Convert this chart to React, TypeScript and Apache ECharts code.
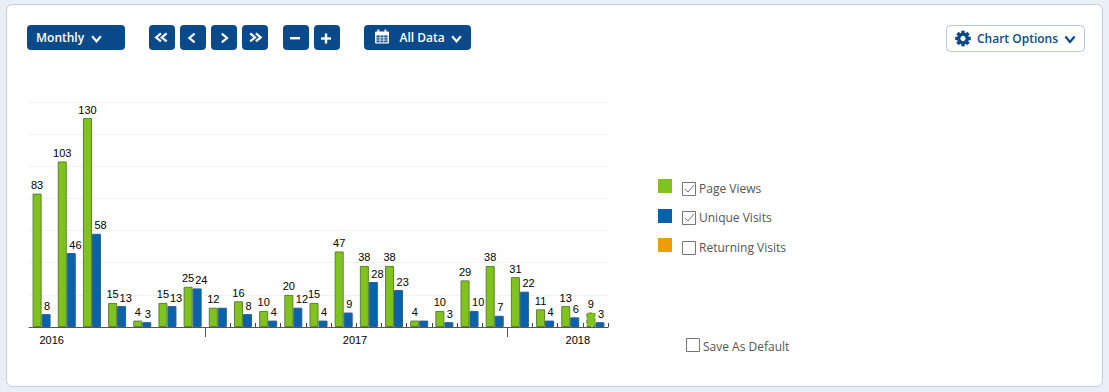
import React, { useEffect, useRef } from "react";
import * as echarts from "echarts";

const months = [
  "2016-06","2016-07","2016-08","2016-09","2016-10","2016-11","2016-12",
  "2017-01","2017-02","2017-03","2017-04","2017-05","2017-06","2017-07","2017-08","2017-09","2017-10","2017-11","2017-12",
  "2018-01","2018-02","2018-03","2018-04",
];
const pageViews = [83,103,130,15,4,15,25,12,16,10,20,15,47,38,38,4,10,29,38,31,11,13,9];
const uniqueVisits = [8,46,58,13,3,13,24,12,8,4,12,4,9,28,23,4,3,10,7,22,4,6,3];
const hiddenUniqueLabels = [7, 15];
const yearLabels = ["2016", "2017", "2018"];
const yearLabelSlots = [0.9, 12.95, 21.8];
const yearBoundaries = [7, 19];
const monthBoundaries = [8,9,10,11,12,13,14,15,16,17,18,20,21,22,23];
const legendNames = ["Page Views", "Unique Visits", "Returning Visits"];
const legendChecked = [true, true, false];

const GREEN = "#7fc31c";
const BLUE = "#0a62ad";
const ORANGE = "#f09d05";
const NAVY = "#0b4a8a";
const UI_FONT = "'Open Sans', sans-serif";

function chevron(cx: number, cy: number, dir: "l" | "r" | "d", s = 3.5, color = "#fff"): any {
  const pts =
    dir === "d"
      ? [[cx - s, cy - s * 0.6], [cx, cy + s * 0.6], [cx + s, cy - s * 0.6]]
      : dir === "l"
      ? [[cx + s * 0.6, cy - s], [cx - s * 0.6, cy], [cx + s * 0.6, cy + s]]
      : [[cx - s * 0.6, cy - s], [cx + s * 0.6, cy], [cx - s * 0.6, cy + s]];
  return { type: "polyline", shape: { points: pts }, style: { stroke: color, lineWidth: 2.2, fill: "none" } };
}

function btn(x: number, w: number): any {
  return { type: "rect", shape: { x, y: 25, width: w, height: 25, r: 4 }, style: { fill: NAVY } };
}

function label(text: string, x: number, y: number, fill: string, fontSize: number, fontWeight: any): any {
  return {
    type: "text",
    x,
    y,
    style: { text, fill, fontSize, fontWeight, fontFamily: UI_FONT, textVerticalAlign: "middle", textBaseline: "middle" },
  };
}

function checkbox(x: number, y: number, size: number, checked: boolean): any[] {
  const out: any[] = [
    { type: "rect", shape: { x: x + 0.5, y: y + 0.5, width: size, height: size }, style: { fill: "#fff", stroke: "#777", lineWidth: 1 } },
  ];
  if (checked) {
    out.push({
      type: "polyline",
      shape: { points: [[x + 3, y + 7], [x + 6, y + 10], [x + 12, y + 3]] },
      style: { stroke: "#777", lineWidth: 1, fill: "none" },
    });
  }
  return out;
}

function buildGraphics(): any[] {
  const g: any[] = [
    { type: "rect", z: -10, shape: { x: 6.5, y: 4.5, width: 1096, height: 382, r: 6 }, style: { fill: "#fff", stroke: "#c3cfdf", lineWidth: 1 } },
    btn(27, 98),
    label("Monthly", 36, 37.5, "#fff", 12, 600),
    chevron(96.5, 38.8, "d", 4.3),
    btn(149, 26),
    chevron(158.5, 37.4, "l", 4),
    chevron(164.2, 37.4, "l", 4),
    btn(180, 26),
    chevron(192, 38, "l", 4.4),
    btn(211, 26),
    chevron(224.4, 38, "r", 4.4),
    btn(242, 26),
    chevron(252.6, 37.4, "r", 4),
    chevron(258.3, 37.4, "r", 4),
    btn(283, 26),
    { type: "rect", shape: { x: 290, y: 37, width: 10, height: 2.4 }, style: { fill: "#fff" } },
    btn(314, 26),
    { type: "rect", shape: { x: 321, y: 37.3, width: 10, height: 2.4 }, style: { fill: "#fff" } },
    { type: "rect", shape: { x: 324.8, y: 33.5, width: 2.4, height: 10 }, style: { fill: "#fff" } },
    btn(364, 107),
    { type: "rect", shape: { x: 375, y: 31.5, width: 14, height: 12, r: 1 }, style: { fill: "#fff" } },
    { type: "rect", shape: { x: 376.5, y: 35.5, width: 11, height: 6.8 }, style: { fill: NAVY } },
    { type: "line", shape: { x1: 376.5, y1: 37.8, x2: 387.5, y2: 37.8 }, style: { stroke: "#fff", lineWidth: 0.8 } },
    { type: "line", shape: { x1: 376.5, y1: 40.1, x2: 387.5, y2: 40.1 }, style: { stroke: "#fff", lineWidth: 0.8 } },
    { type: "line", shape: { x1: 380.2, y1: 35.5, x2: 380.2, y2: 42.3 }, style: { stroke: "#fff", lineWidth: 0.8 } },
    { type: "line", shape: { x1: 383.8, y1: 35.5, x2: 383.8, y2: 42.3 }, style: { stroke: "#fff", lineWidth: 0.8 } },
    { type: "rect", shape: { x: 377.5, y: 29.5, width: 1.8, height: 3.5 }, style: { fill: "#fff" } },
    { type: "rect", shape: { x: 384.5, y: 29.5, width: 1.8, height: 3.5 }, style: { fill: "#fff" } },
    label("All Data", 399.5, 37.5, "#fff", 12, 600),
    chevron(456.5, 38.8, "d", 4.3),
    { type: "rect", shape: { x: 946.5, y: 25.5, width: 138, height: 26, r: 4 }, style: { fill: "#fff", stroke: "#b4c8de", lineWidth: 1 } },
    { type: "ring", shape: { cx: 963, cy: 38.5, r: 6, r0: 2.6 }, style: { fill: NAVY } },
  ];
  for (let i = 0; i < 8; i++) {
    g.push({
      type: "rect",
      x: 963,
      y: 38.5,
      rotation: (i * Math.PI) / 4,
      shape: { x: -1.7, y: -7.8, width: 3.4, height: 4 },
      style: { fill: NAVY },
    });
  }
  g.push(label("Chart Options", 977, 38, NAVY, 12, 600), chevron(1070, 39.3, "d", 4.6, NAVY));

  const squareY = [179, 209, 238];
  const colours = [GREEN, BLUE, ORANGE];
  const boxY = [182, 211, 241];
  const textY = [188, 217.5, 247.5];
  legendNames.forEach((name, i) => {
    g.push({ type: "rect", shape: { x: 658, y: squareY[i], width: 14, height: 14 }, style: { fill: colours[i] } });
    g.push(...checkbox(682, boxY[i], 13, legendChecked[i]));
    g.push(label(name, 699, textY[i], "#555", 12, 400));
  });
  g.push(...checkbox(686, 338, 13, false));
  g.push(label("Save As Default", 703, 346.5, "#555", 12, 400));
  return g;
}

export default function App() {
  const ref = useRef<HTMLDivElement>(null);
  useEffect(() => {
    document.body.style.margin = "0";
    document.body.style.background = "#e8eff7";
    const chart = echarts.init(ref.current!, undefined, { renderer: "svg" });
    const barLabel = { show: true, position: "top", distance: 3, color: "#000", fontSize: 11, fontFamily: "'Liberation Sans', Arial, sans-serif" };
    // Blue labels start just left of the bar's centre, so they lean away from the green ones.
    const blueLabel = { ...barLabel, align: "left", offset: [-2, 0] };
    chart.setOption({
      animation: false,
      backgroundColor: "transparent",
      grid: { left: 29, right: 501, top: 102, height: 225, containLabel: false },
      xAxis: [
        {
          type: "category",
          data: months,
          axisLine: { lineStyle: { color: "#555", width: 1 } },
          axisTick: { show: false },
          axisLabel: { show: false },
          splitLine: { show: false },
        },
        {
          type: "value",
          min: 0,
          max: 23,
          position: "bottom",
          axisLine: { show: false },
          splitLine: { show: false },
          axisTick: { show: true, customValues: yearBoundaries, length: 10, lineStyle: { color: "#555", width: 1 } },
          axisLabel: {
            show: true,
            customValues: yearLabelSlots,
            formatter: (v: number) => yearLabels[yearLabelSlots.indexOf(v)] ?? "",
            margin: 7,
            color: "#000",
            fontSize: 11,
            fontFamily: "'Liberation Sans', Arial, sans-serif",
          },
        },
        {
          type: "value",
          min: 0,
          max: 23,
          position: "bottom",
          axisLine: { show: false },
          splitLine: { show: false },
          axisLabel: { show: false },
          axisTick: { show: true, customValues: monthBoundaries, inside: true, length: 4, lineStyle: { color: "#444", width: 1 } },
        },
      ],
      yAxis: {
        type: "value",
        min: 0,
        max: 140,
        interval: 20,
        axisLine: { show: false },
        axisTick: { show: false },
        axisLabel: { show: false },
        splitLine: { lineStyle: { color: "#f1f1f1", width: 1 } },
      },
      series: [
        {
          name: legendNames[0],
          type: "bar",
          barWidth: 9,
          barGap: 0,
          itemStyle: { color: GREEN, borderColor: "#5d8035", borderWidth: 1 },
          label: barLabel,
          data: pageViews.map((value, i) =>
            i === pageViews.length - 1
              ? { value, itemStyle: { borderType: "dashed", borderColor: "#5d8035" } }
              : value
          ),
        },
        {
          name: legendNames[1],
          type: "bar",
          barWidth: 9,
          barGap: 0,
          itemStyle: { color: BLUE, borderColor: "#2a5f8f", borderWidth: 1 },
          label: blueLabel,
          data: uniqueVisits.map((value, i) =>
            hiddenUniqueLabels.includes(i) ? { value, label: { show: false } } : value
          ),
        },
      ],
      graphic: { elements: buildGraphics() },
    });
    return () => chart.dispose();
  }, []);
  return <div ref={ref} style={{ position: "absolute", left: 0, top: 0, width: 1109, height: 392 }} />;
}
